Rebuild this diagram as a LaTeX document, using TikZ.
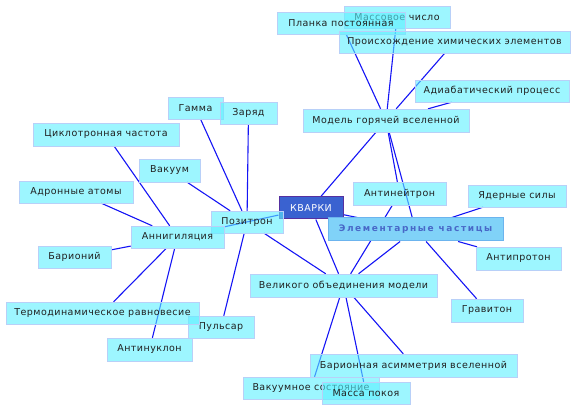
\documentclass[tikz,border=0pt]{standalone}
\usepackage{fontspec}
\setmainfont{DejaVu Sans}
\newfontfamily\labelfont[LetterSpace=5]{DejaVu Sans}
\newfontfamily\elemfont[LetterSpace=18]{DejaVu Sans}
\usetikzlibrary{backgrounds}
\definecolor{boxcyan}{HTML}{5CF0FF}
\definecolor{boxedge}{HTML}{B8D0F8}
\definecolor{elemfill}{HTML}{80D2F8}
\definecolor{elemedge}{HTML}{6CB4EE}
\definecolor{elemtext}{HTML}{4868C8}
\definecolor{quarkfill}{HTML}{3A62D0}
\definecolor{quarkedge}{HTML}{5530A0}
\definecolor{linkblue}{HTML}{1515F5}
\definecolor{labeltext}{HTML}{202020}

\begin{document}
\begin{tikzpicture}[
    x=1pt, y=-1pt,
    topic/.style={draw=boxedge, fill=boxcyan, fill opacity=0.6, text opacity=1, inner sep=0pt,
        minimum height=22pt, text=labeltext, font=\labelfont\fontsize{9.5}{10}\selectfont},
    group/.style={draw=elemedge, fill=elemfill, line width=1pt, inner sep=0pt, minimum height=23pt,
        text=elemtext, font=\elemfont\bfseries\fontsize{9}{10}\selectfont},
    core/.style={draw=quarkedge, fill=quarkfill, line width=1pt, inner sep=0pt, minimum height=22pt,
        text=white, font=\labelfont\fontsize{9.5}{10}\selectfont},
    link/.style={draw=linkblue, line width=1.1pt}
]
    \useasboundingbox (0,0) rectangle (576,411);

    % Centre
    \node[core, minimum width=64pt] (kvarki) at (311,208) {КВАРКИ};
    \node[group, minimum width=175pt] (elem) at (415.5,229.5) {Элементарные частицы};

    % Hot universe branch
    \node[topic, minimum width=166pt, minimum height=23pt] (model) at (386,120.5) {Модель горячей вселенной};
    \node[topic, minimum width=106pt] (massnum) at (397,17) {Массовое число};
    \node[topic, minimum width=128pt] (planck) at (341,23) {Планка постоянная};
    \node[topic, minimum width=231pt] (origin) at (454.5,42) {Происхождение химических элементов};
    \node[topic, minimum width=154pt] (adiab) at (492,91) {Адиабатический процесс};

    % Positron branch
    \node[topic, minimum width=55pt] (gamma) at (195.5,108) {Гамма};
    \node[topic, minimum width=57pt] (charge) at (248.5,113) {Заряд};
    \node[topic, minimum width=61pt, minimum height=23pt] (vacuum) at (169.5,170.5) {Вакуум};
    \node[topic, minimum width=72pt] (positron) at (247,222) {Позитрон};
    \node[topic, minimum width=66pt] (pulsar) at (221,327) {Пульсар};

    % Annihilation branch
    \node[topic, minimum width=146pt, minimum height=23pt] (cyclo) at (106,134.5) {Циклотронная частота};
    \node[topic, minimum width=114pt] (hadron) at (76,192) {Адронные атомы};
    \node[topic, minimum width=93pt] (annih) at (177.5,237) {Аннигиляция};
    \node[topic, minimum width=73pt] (baryonium) at (74.5,257) {Барионий};
    \node[topic, minimum width=193pt] (thermo) at (102.5,313) {Термодинамическое равновесие};
    \node[topic, minimum width=85pt, minimum height=23pt] (antinucleon) at (149.5,349.5) {Антинуклон};

    % Particles branch
    \node[topic, minimum width=93pt, minimum height=23pt] (antineutron) at (399.5,193.5) {Антинейтрон};
    \node[topic, minimum width=98pt] (nuclear) at (517,196) {Ядерные силы};
    \node[topic, minimum width=85pt, minimum height=23pt] (antiproton) at (518.5,258.5) {Антипротон};
    \node[topic, minimum width=72pt, minimum height=23pt] (graviton) at (487,310.5) {Гравитон};

    % Grand unification branch
    \node[topic, minimum width=187pt, minimum height=23pt] (gut) at (343.5,285.5) {Великого объединения модели};
    \node[topic, minimum width=207pt, minimum height=23pt] (baryonasym) at (413.5,365.5) {Барионная асимметрия вселенной};
    \node[topic, minimum width=136pt] (vacstate) at (311,388) {Вакуумное состояние};
    \node[topic, minimum width=88pt] (restmass) at (366,393) {Масса покоя};

    % Connections
    \begin{scope}[on background layer]
        \foreach \a/\b in {kvarki/model, kvarki/annih, kvarki/elem, kvarki/gut,
            model/planck, model/massnum, model/origin, model/adiab, model/antineutron, model/elem,
            positron/gamma, positron/charge, positron/vacuum, positron/pulsar, positron/gut,
            annih/cyclo, annih/hadron, annih/baryonium, annih/thermo, annih/antinucleon,
            elem/nuclear, elem/antiproton, elem/graviton, elem/gut, antineutron/gut,
            gut/vacstate, gut/restmass, gut/baryonasym}
            \draw[link] (\a) -- (\b);
    \end{scope}
\end{tikzpicture}
\end{document}
